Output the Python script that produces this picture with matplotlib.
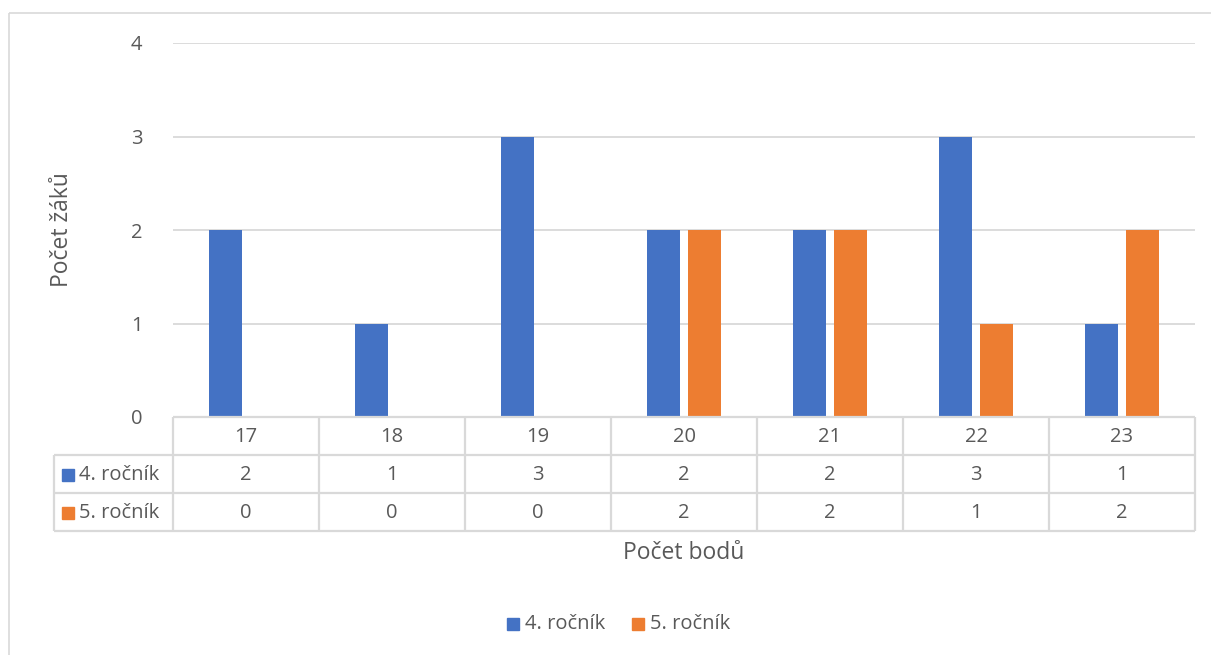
import numpy as np
import matplotlib
matplotlib.use("Agg")
import matplotlib.pyplot as plt
from matplotlib.patches import Rectangle

categories = ["17", "18", "19", "20", "21", "22", "23"]
series_names = ["4. ročník", "5. ročník"]
values_4 = [2, 1, 3, 2, 2, 3, 1]
values_5 = [0, 0, 0, 2, 2, 1, 2]
y_ticks = [0, 1, 2, 3, 4]
x_title = "Počet bodů"
y_title = "Počet žáků"

colors = ["#4472C4", "#ED7D31"]
text_color = "#595959"
line_color = "#D9D9D9"
plt.rcParams['font.family'] = ['Open Sans', 'DejaVu Sans']
FS = 14.5
FT = 16.5

W, H = 1211, 655
fig = plt.figure(figsize=(W / 100, H / 100), dpi=100)

def fx(px):
    return px / W

def fy(py):
    return 1 - py / H

# chart border
bg = fig.add_axes([0, 0, 1, 1], zorder=0)
bg.set_xlim(0, W)
bg.set_ylim(H, 0)
bg.axis("off")
bg.add_patch(Rectangle((8.5, 12.5), W + 10, H + 10, fill=False, edgecolor=line_color, lw=1.2))

left, right, top, bottom = 173, 1195, 43, 417
ax = fig.add_axes([fx(left), fy(bottom), fx(right - left), fy(top) - fy(bottom)], zorder=2)
ax.set_facecolor("none")
n = len(categories)
x = np.arange(n)
width = 0.225
off = 0.143
ax.bar(x - off, values_4, width, color=colors[0], zorder=3)
ax.bar(x + off, values_5, width, color=colors[1], zorder=3)
ax.set_xlim(-0.5, n - 0.5)
ax.set_ylim(0, 4)
ax.set_yticks(y_ticks)
ax.set_yticklabels([str(t) for t in y_ticks], color=text_color, fontsize=FS)
ax.tick_params(axis="y", length=0, pad=22)
ax.set_xticks([])
for s in ax.spines.values():
    s.set_visible(False)
for t in y_ticks[1:]:
    ax.axhline(t, color=line_color, lw=1.3, zorder=1)

# data table
ov = fig.add_axes([0, 0, 1, 1], zorder=3)
ov.set_xlim(0, W)
ov.set_ylim(H, 0)
ov.axis("off")
catw = (right - left) / n
rows = [417, 455, 493, 531]
lab_left = 54
lk = dict(color=line_color, lw=1.6, solid_capstyle="butt")
ov.plot([left, right], [rows[0], rows[0]], **lk)
for r in rows[1:]:
    ov.plot([lab_left, right], [r, r], **lk)
for i in range(n + 1):
    xx = left + i * catw
    ov.plot([xx, xx], [rows[0], rows[3]], **lk)
ov.plot([lab_left, lab_left], [rows[1], rows[3]], **lk)

for i, c in enumerate(categories):
    cx = left + (i + 0.5) * catw
    ov.text(cx, (rows[0] + rows[1]) / 2 + 1, c, ha="center", va="center", color=text_color, fontsize=FS)
    ov.text(cx, (rows[1] + rows[2]) / 2 + 1, str(values_4[i]), ha="center", va="center", color=text_color, fontsize=FS)
    ov.text(cx, (rows[2] + rows[3]) / 2 + 1, str(values_5[i]), ha="center", va="center", color=text_color, fontsize=FS)

for j, (name, col) in enumerate(zip(series_names, colors)):
    yc = (rows[j + 1] + rows[j + 2]) / 2
    ov.add_patch(Rectangle((62, yc - 5.5), 12, 12, color=col))
    ov.text(79, yc + 1, name, ha="left", va="center", color=text_color, fontsize=FS)

# axis titles
ov.text(684, 553, x_title, ha="center", va="center", color=text_color, fontsize=FT)
ov.text(62, 230, y_title, ha="center", va="center", rotation=90, color=text_color, fontsize=FT)

# legend
lx = [507, 632]
for j, (name, col) in enumerate(zip(series_names, colors)):
    ov.add_patch(Rectangle((lx[j], 618), 12, 12, color=col))
    ov.text(lx[j] + 18, 624, name, ha="left", va="center", color=text_color, fontsize=FS)

fig.savefig("out.png", dpi=100)
